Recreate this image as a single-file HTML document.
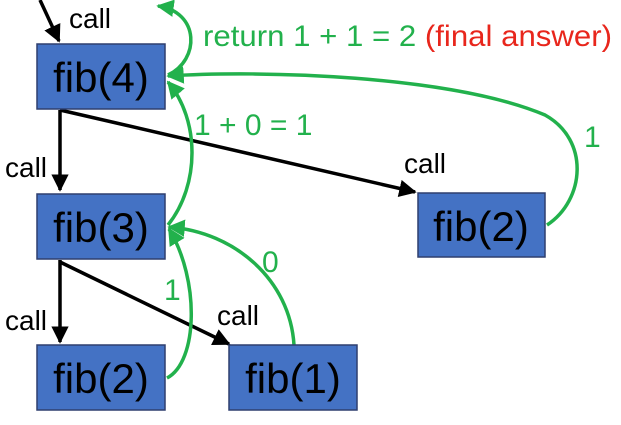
<!DOCTYPE html>
<html><head><meta charset="utf-8"><style>
html,body{margin:0;padding:0;background:#fff;}
svg{display:block;font-family:"Liberation Sans","DejaVu Sans",sans-serif;}
</style></head><body>
<svg width="621" height="425" viewBox="0 0 621 425">
<defs>
<marker id="ab" viewBox="0 0 10 10" refX="9" refY="5" markerWidth="5" markerHeight="5" orient="auto"><path d="M0,0 L10,5 L0,10 z" fill="#000"/></marker>
<marker id="ag" viewBox="0 0 10 10" refX="9" refY="5" markerWidth="5" markerHeight="5" orient="auto"><path d="M0,0 L10,5 L0,10 z" fill="#22b14c"/></marker>
</defs>
<g stroke="#000" stroke-width="3.5" fill="none">
<line x1="40" y1="0" x2="59" y2="41" marker-end="url(#ab)"/>
<line x1="60" y1="110" x2="60" y2="190" marker-end="url(#ab)"/>
<line x1="60" y1="110" x2="415" y2="192" marker-end="url(#ab)"/>
<line x1="60" y1="260" x2="60" y2="342" marker-end="url(#ab)"/>
<line x1="60" y1="262" x2="229" y2="344" marker-end="url(#ab)"/>
</g>
<g stroke="#22b14c" stroke-width="3.5" fill="none">
<path d="M168,75 C200,60 200,12 158,6" marker-end="url(#ag)"/>
<path d="M547,225 C585,200 590,140 545,115 C450,75 260,70 168,76" marker-end="url(#ag)"/>
<path d="M168,225 C200,185 200,120 168,82" marker-end="url(#ag)"/>
<path d="M167,378 C198,362 200,280 169,229" marker-end="url(#ag)"/>
<path d="M294,345 C290,280 235,232 169,227" marker-end="url(#ag)"/>
</g>
<g fill="#4472c4" stroke="#2f3f6f" stroke-width="1.5">
<rect x="37" y="44" width="128" height="65"/>
<rect x="37" y="194" width="128" height="65"/>
<rect x="418" y="193" width="127" height="64"/>
<rect x="37" y="345" width="128" height="65"/>
<rect x="229" y="345" width="128" height="65"/>
</g>
<g font-size="42" fill="#000" text-anchor="middle">
<text x="101" y="92">fib(4)</text>
<text x="101" y="242">fib(3)</text>
<text x="481" y="241">fib(2)</text>
<text x="101" y="393">fib(2)</text>
<text x="293" y="393">fib(1)</text>
</g>
<g font-size="28" fill="#000">
<text x="69" y="28">call</text>
<text x="5" y="177">call</text>
<text x="404" y="173">call</text>
<text x="5" y="330">call</text>
<text x="217" y="325">call</text>
</g>
<g font-size="30" fill="#22b14c">
<text x="203" y="46" textLength="409" lengthAdjust="spacingAndGlyphs">return 1 + 1 = 2 <tspan fill="#e8261c">(final answer)</tspan></text>
<text x="194" y="135">1 + 0 = 1</text>
<text x="584" y="147">1</text>
<text x="262" y="272">0</text>
<text x="164" y="300">1</text>
</g>
</svg>
</body></html>
